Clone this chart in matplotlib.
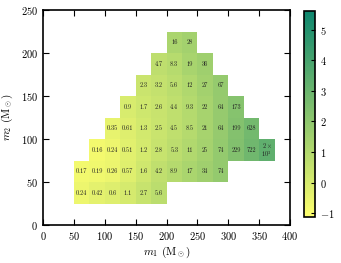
import numpy as np
import matplotlib
matplotlib.use("Agg")
import matplotlib.pyplot as plt

plt.rcParams["font.family"] = "serif"
plt.rcParams["font.serif"] = ["cmr10"]
plt.rcParams["mathtext.fontset"] = "cm"
plt.rcParams["axes.formatter.use_mathtext"] = True

# bin size in both masses
step = 25
# lower edge of m2 for each row, and first m1 bin of that row
m2_rows = [25, 50, 75, 100, 125, 150, 175, 200]
m1_first = [50, 50, 75, 100, 125, 150, 175, 200]

row_values = [
    [0.24, 0.42, 0.6, 1.1, 2.7, 5.6],
    [0.17, 0.19, 0.26, 0.57, 1.6, 4.2, 8.9, 17, 34, 74],
    [0.16, 0.24, 0.51, 1.2, 2.8, 5.3, 11, 25, 74, 229, 722, 2000],
    [0.35, 0.61, 1.3, 2.5, 4.5, 8.5, 21, 64, 199, 628],
    [0.9, 1.7, 2.6, 4.4, 9.3, 22, 64, 173],
    [2.3, 3.2, 5.6, 12, 27, 67],
    [4.7, 8.3, 19, 36],
    [16, 28],
]

# build grid
x_edges = np.arange(50, 376, step)
y_edges = np.arange(25, 226, step)
grid = np.full((len(y_edges) - 1, len(x_edges) - 1), np.nan)
for i, (m1s, vals) in enumerate(zip(m1_first, row_values)):
    j0 = (m1s - 50) // step
    grid[i, j0:j0 + len(vals)] = np.log10(vals)
grid = np.ma.masked_invalid(grid)

fig = plt.figure(figsize=(3.41, 2.63), dpi=100)
ax = fig.add_axes([43 / 341, 38 / 263, 247 / 341, 215 / 263])
mesh = ax.pcolormesh(x_edges, y_edges, grid, cmap="summer_r",
                     vmin=-1.13, vmax=5.62, alpha=0.95, edgecolors="none")

for i, (m1s, vals) in enumerate(zip(m1_first, row_values)):
    for k, v in enumerate(vals):
        xc = m1s + step * k + step / 2
        yc = m2_rows[i] + step / 2
        if v >= 1000:
            txt = r"$2\times$" + "\n" + r"$10^3$"
        elif v >= 10:
            txt = "%d" % v
        else:
            txt = "%g" % v
        ax.text(xc, yc, txt, ha="center", va="center", fontsize=4.6,
                color="#222222", linespacing=0.9)

ax.set_xlim(0, 400)
ax.set_ylim(0, 250)
ax.set_xticks(np.arange(0, 401, 50))
ax.set_yticks(np.arange(0, 251, 50))
ax.tick_params(direction="in", top=True, right=True, labelsize=7.5,
               length=4, width=0.8)
for s in ax.spines.values():
    s.set_linewidth(1.2)
ax.set_xlabel(r"$m_1$ (M$_\odot$)", fontsize=8, labelpad=2)
ax.set_ylabel(r"$m_2$ (M$_\odot$)", fontsize=8, labelpad=4)

cax = fig.add_axes([304 / 341, 46 / 263, 11 / 341, 206 / 263])
cb = fig.colorbar(mesh, cax=cax)
cb.set_ticks(np.arange(-1, 6, 1))
cb.solids.set_alpha(0.95)
cb.outline.set_linewidth(1.2)
cax.tick_params(direction="in", labelsize=7.5, length=3, width=0.8)

fig.savefig("out.png", dpi=100)
